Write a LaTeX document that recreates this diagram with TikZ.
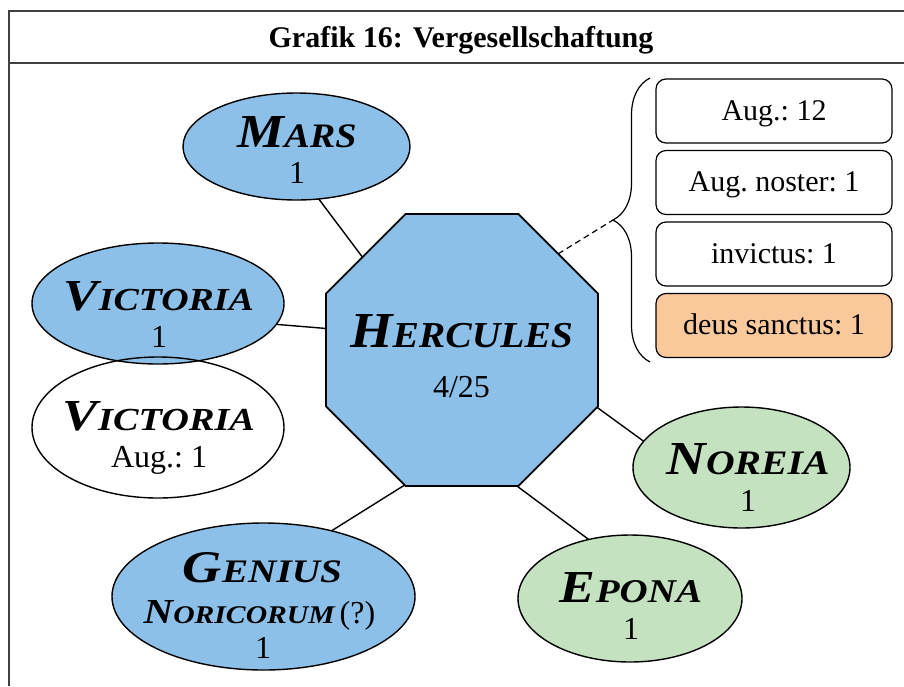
\documentclass[tikz,border=0pt]{standalone}
\usepackage{fontspec}
\setmainfont{Liberation Serif}
\usepackage{graphicx}
\usetikzlibrary{shapes.geometric,decorations.pathreplacing}
\definecolor{nodeblue}{HTML}{8DC0E8}
\definecolor{nodegreen}{HTML}{C4E1C0}
\definecolor{boxorange}{HTML}{F9C89B}
\definecolor{framegray}{HTML}{404040}
\newcommand\godname[4]{\resizebox{#1}{#2}{\bfseries\itshape\fontsize{40}{40}\selectfont #3\fontsize{29}{29}\selectfont #4}}
\begin{document}
\begin{tikzpicture}[x=1pt,y=-1pt,
  godell/.style={ellipse, draw=black, line width=1.4pt, inner sep=0pt, outer sep=0pt},
  txt/.style={anchor=base, inner sep=0pt, font=\fontsize{32}{32}\selectfont},
  epbox/.style={draw=black, line width=1.2pt, rounded corners=10pt, minimum width=236pt, minimum height=64pt,
    inner sep=0pt, text height=22pt, text depth=4pt, font=\fontsize{30}{30}\selectfont},
  link/.style={line width=1.4pt, draw=black},
  framel/.style={line width=2pt, draw=framegray}]
\useasboundingbox (0,0) rectangle (904,686);
% frame
\draw[framel] (9,686) -- (9,11) -- (904,11);
\draw[framel] (9,63) -- (904,63);
\node[anchor=base, inner sep=0pt, font=\bfseries\fontsize{30}{30}\selectfont] (title) at (461,47) {Grafik 16: Vergesellschaftung};
% central octagon
\node[regular polygon, regular polygon sides=8, minimum size=294.4pt, inner sep=0pt, outer sep=0pt,
  draw=black, line width=1.8pt, fill=nodeblue] (herc) at (462,350) {};
% ellipses
\node[godell, fill=nodeblue, minimum width=227pt, minimum height=107pt] (mars) at (296.5,146.5) {};
\node[godell, fill=nodeblue, minimum width=252pt, minimum height=121pt] (vic) at (158,303.5) {};
\node[godell, minimum width=252pt, minimum height=141pt] (vicaug) at (158,427.5) {};
\node[godell, fill=nodegreen, minimum width=217pt, minimum height=121pt] (nor) at (741.5,467.5) {};
\node[godell, fill=nodegreen, minimum width=224pt, minimum height=127pt] (epo) at (630,598.5) {};
\node[godell, fill=nodeblue, minimum width=303pt, minimum height=147pt] (gen) at (263.5,596.5) {};
% connectors
\draw[link] (mars.293.7) -- (herc.137.4);
\draw[link] (vic.350.7) -- (herc.171.3);
\draw[link] (gen.44.6) -- (herc.247.5);
\draw[link] (epo.125.7) -- (herc.292.5);
\draw[link] (nor.165.2) -- (herc.337.5);
% texts
\node[txt] (herct) at (461.5,347) {\godname{223pt}{33pt}{H}{ERCULES}};
\node[txt] (hercn) at (461.5,397) {4/25};
\node[txt] (marst) at (297,147) {\godname{119pt}{31pt}{M}{ARS}};
\node[txt] (marsn) at (297,183) {1};
\node[txt] (vict) at (159,310) {\godname{190pt}{29pt}{V}{ICTORIA}};
\node[txt] (vicn) at (159,347) {1};
\node[txt] (vicaugt) at (159,430) {\godname{192pt}{29pt}{V}{ICTORIA}};
\node[txt] (vicaugn) at (159,467) {Aug.:\ 1};
\node[txt] (nort) at (748,474) {\godname{163pt}{31pt}{N}{OREIA}};
\node[txt] (norn) at (748,511) {1};
\node[txt] (epot) at (631,602) {\godname{142pt}{30pt}{E}{PONA}};
\node[txt] (epon) at (631,639) {1};
\node[txt] (gent) at (262.5,582) {\godname{159pt}{30pt}{G}{ENIUS}};
\node[txt] (gent2) at (259.5,623) {\godname{191pt}{23pt}{N}{ORICORUM}\hspace{5pt}(?)};
\node[txt] (genn) at (263,658) {1};
% epithet boxes
\node[epbox] (b1) at (774,111) {Aug.:\ 12};
\node[epbox] (b2) at (774,182.5) {Aug.\ noster:\ 1};
\node[epbox] (b3) at (774,254) {invictus:\ 1};
\node[epbox, fill=boxorange] (b4) at (774,325.5) {deus sanctus:\ 1};
% brace and dashed link
\draw[line width=1.2pt, decorate, decoration={brace, amplitude=37pt}] (650,362) -- (650,78);
\coordinate (tip) at (613,220);
\draw[line width=1.2pt, dash pattern=on 6pt off 4pt] (herc.45) -- (tip);
\end{tikzpicture}
\end{document}
